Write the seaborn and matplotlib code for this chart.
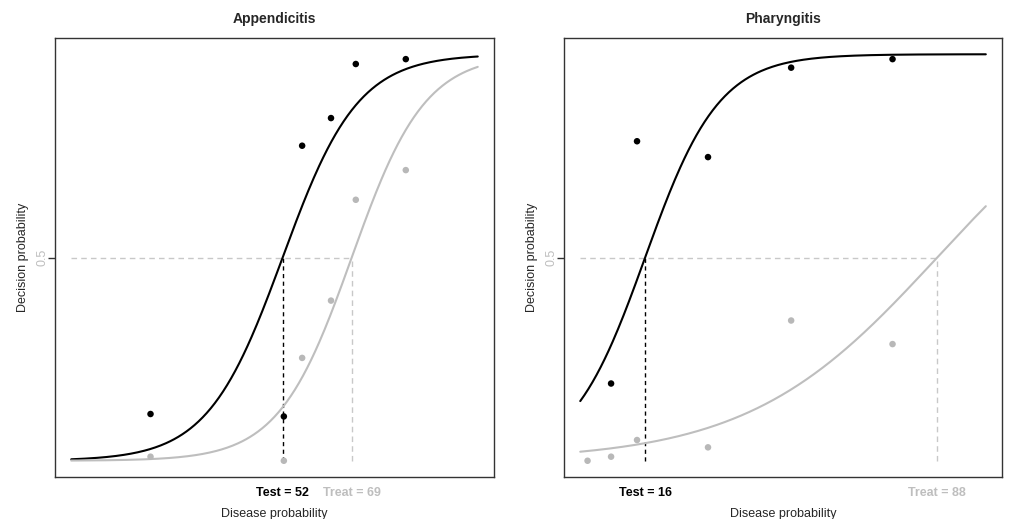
import numpy as np
import pandas as pd
import matplotlib
matplotlib.use("Agg")
import matplotlib.pyplot as plt
import seaborn as sns

# disease probability (%) of each vignette and share of decisions
appendicitis_x = [19.5, 52.3, 56.8, 63.9, 70.0, 82.3]
appendicitis_test = [0.115, 0.109, 0.775, 0.843, 0.976, 0.988]
appendicitis_treat = [0.010, 0.000, 0.253, 0.394, 0.642, 0.715]

pharyngitis_x = [1.8, 7.6, 14.0, 31.5, 52.0, 77.0]
pharyngitis_test = [np.nan, 0.190, 0.786, 0.747, 0.967, 0.988]
pharyngitis_treat = [0.000, 0.010, 0.051, 0.033, 0.345, 0.287]

# fitted logistic curves: 50% threshold and slope (test, treat)
appendicitis_thresholds = [52, 69]
appendicitis_slopes = [0.108, 0.111]
pharyngitis_thresholds = [16, 88]
pharyngitis_slopes = [0.110, 0.043]

BLACK = "#000000"
GREY = "#bebebe"
DOT_GREY = "#b8b8b8"
LINE_GREY = "#c8c8c8"

sns.set_style("white")
plt.rcParams['font.family'] = ['Liberation Sans', 'DejaVu Sans']

fig = plt.figure(figsize=(10.09, 5.19), dpi=100)
ax1 = fig.add_axes([0.0545, 0.0809, 0.4351, 0.8459])
ax2 = fig.add_axes([0.5590, 0.0809, 0.4341, 0.8459])


def panel(ax, title, xs, test, treat, thresholds, slopes):
    grid = np.linspace(0, 100, 301)
    curves = pd.DataFrame({
        "x": np.concatenate([grid, grid]),
        "p": np.concatenate([1 / (1 + np.exp(-slopes[0] * (grid - thresholds[0]))),
                             1 / (1 + np.exp(-slopes[1] * (grid - thresholds[1])))]),
        "kind": ["test"] * len(grid) + ["treat"] * len(grid),
    })
    dots = pd.DataFrame({
        "x": xs + xs,
        "p": test + treat,
        "kind": ["test"] * len(xs) + ["treat"] * len(xs),
    }).dropna()
    pal = {"test": BLACK, "treat": GREY}

    # reference lines at 0.5
    ax.plot([0, thresholds[1]], [0.5, 0.5], color=LINE_GREY, lw=1, dashes=(4, 3), zorder=1)
    ax.plot([thresholds[0]] * 2, [0, 0.5], color=BLACK, lw=1, dashes=(3, 2.5), zorder=1)
    ax.plot([thresholds[1]] * 2, [0, 0.5], color=LINE_GREY, lw=1, dashes=(4, 3), zorder=1)

    sns.lineplot(data=curves, x="x", y="p", hue="kind", palette=pal,
                 lw=1.5, legend=False, ax=ax, zorder=2)
    sns.scatterplot(data=dots, x="x", y="p", hue="kind",
                    palette={"test": BLACK, "treat": DOT_GREY},
                    s=22, linewidth=0, legend=False, ax=ax, zorder=3)

    ax.set_xlim(-4, 104)
    ax.set_ylim(-0.04, 1.04)
    ax.set_title(title, fontsize=10, fontweight="bold", pad=11)
    ax.set_xlabel("Disease probability", fontsize=9, labelpad=7)
    ax.set_ylabel("Decision probability", fontsize=9, labelpad=5)

    ax.set_xticks(thresholds)
    ax.set_xticklabels([f"Test = {thresholds[0]}", f"Treat = {thresholds[1]}"],
                       fontsize=9, fontweight="bold")
    ax.get_xticklabels()[0].set_color(BLACK)
    ax.get_xticklabels()[1].set_color(GREY)
    ax.tick_params(axis="x", length=0, pad=7)

    ax.set_yticks([0.5])
    ax.set_yticklabels(["0.5"], fontsize=9, color=GREY, rotation=90, va="center")
    ax.tick_params(axis="y", left=True, length=5, width=1, color="#333333", pad=0)

    for sp in ax.spines.values():
        sp.set_color("#333333")
        sp.set_linewidth(1)


panel(ax1, "Appendicitis", appendicitis_x, appendicitis_test, appendicitis_treat,
      appendicitis_thresholds, appendicitis_slopes)
panel(ax2, "Pharyngitis", pharyngitis_x, pharyngitis_test, pharyngitis_treat,
      pharyngitis_thresholds, pharyngitis_slopes)

fig.savefig("out.png", dpi=100)
